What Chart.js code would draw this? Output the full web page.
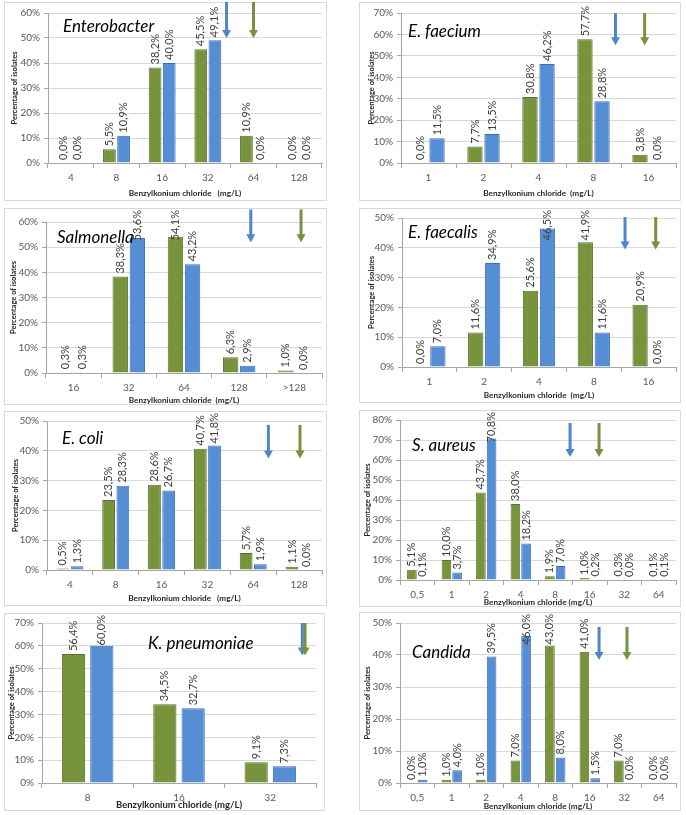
<!DOCTYPE html>
<html>
<head>
<meta charset="utf-8">
<script src="https://cdn.jsdelivr.net/npm/chart.js@4.4.0/dist/chart.umd.min.js"></script>
<style>
  body { margin: 0; background: #fff; }
  #page { position: relative; width: 686px; height: 815px; overflow: hidden; }
  .frame { position: absolute; box-sizing: border-box; border: 1px solid #d9d9d9; }
  canvas { position: absolute; }
</style>
</head>
<body>
<div id="page"></div>
<script>
// Data (percentage of isolates per MIC, green / blue series)
const enterobacterDoses = ["4", "8", "16", "32", "64", "128"];
const enterobacterGreen = [0.0, 5.5, 38.2, 45.5, 10.9, 0.0];
const enterobacterBlue = [0.0, 10.9, 40.0, 49.1, 0.0, 0.0];

const faeciumDoses = ["1", "2", "4", "8", "16"];
const faeciumGreen = [0.0, 7.7, 30.8, 57.7, 3.8];
const faeciumBlue = [11.5, 13.5, 46.2, 28.8, 0.0];

const salmonellaDoses = ["16", "32", "64", "128", ">128"];
const salmonellaGreen = [0.3, 38.3, 54.1, 6.3, 1.0];
const salmonellaBlue = [0.3, 53.6, 43.2, 2.9, 0.0];

const faecalisDoses = ["1", "2", "4", "8", "16"];
const faecalisGreen = [0.0, 11.6, 25.6, 41.9, 20.9];
const faecalisBlue = [7.0, 34.9, 46.5, 11.6, 0.0];

const coliDoses = ["4", "8", "16", "32", "64", "128"];
const coliGreen = [0.5, 23.5, 28.6, 40.7, 5.7, 1.1];
const coliBlue = [1.3, 28.3, 26.7, 41.8, 1.9, 0.0];

const aureusDoses = ["0,5", "1", "2", "4", "8", "16", "32", "64"];
const aureusGreen = [5.1, 10.0, 43.7, 38.0, 1.9, 1.0, 0.3, 0.1];
const aureusBlue = [0.1, 3.7, 70.8, 18.2, 7.0, 0.2, 0.0, 0.1];

const pneumoniaeDoses = ["8", "16", "32"];
const pneumoniaeGreen = [56.4, 34.5, 9.1];
const pneumoniaeBlue = [60.0, 32.7, 7.3];

const candidaDoses = ["0,5", "1", "2", "4", "8", "16", "32", "64"];
const candidaGreen = [0.0, 1.0, 1.0, 7.0, 43.0, 41.0, 7.0, 0.0];
const candidaBlue = [1.0, 4.0, 39.5, 46.0, 8.0, 1.5, 0.0, 0.0];

const GREEN = "#77933c";
const GREEN_EDGE = "#5b732c";
const BLUE = "#558ed5";
const BLUE_EDGE = "#3b6fb4";
const ARROW_BLUE = "#4f86c9";
const ARROW_GREEN = "#77933c";

// Panel layout: box = frame [x, y, w, h], plot = chart area [left, top, right, bottom]
// arrows: [category index, from value, to value] -> blue first, then green
const panels = [
    { name: "Enterobacter", labels: enterobacterDoses, green: enterobacterGreen, blue: enterobacterBlue, max: 60,
      box: [4, 2, 323, 199], plot: [48, 13, 322, 163], yPad: 6, xPad: 3, namePos: [59, 25],
      xTitle: "Benzylkonium chloride   (mg/L)", arrows: [[3.41, 66, 50], [4.0, 66, 50]] },
    { name: "E. faecium", labels: faeciumDoses, green: faeciumGreen, blue: faeciumBlue, max: 70,
      box: [359, 2, 322, 199], plot: [401, 13, 676, 163], yPad: 8, xPad: 3, namePos: [49, 30],
      xTitle: "Benzylkonium chloride  (mg/L)", arrows: [[3.4, 70, 55], [3.93, 70, 55]] },
    { name: "Salmonella", labels: salmonellaDoses, green: salmonellaGreen, blue: salmonellaBlue, max: 60,
      box: [4, 208, 323, 197], plot: [46, 222, 322, 373], yPad: 5, xPad: 0, namePos: [53, 30],
      xTitle: "Benzylkonium chloride  (mg/L)", arrows: [[3.21, 65, 52], [4.12, 65, 52]] },
    { name: "E. faecalis", labels: faecalisDoses, green: faecalisGreen, blue: faecalisBlue, max: 50,
      box: [359, 208, 322, 195], plot: [402, 216, 676, 367], yPad: 8, xPad: 3, namePos: [49, 25],
      xTitle: "Benzylkonium chloride  (mg/L)", arrows: [[3.57, 50.3, 39.4], [4.13, 50.3, 39.4]] },
    { name: "E. coli", labels: coliDoses, green: coliGreen, blue: coliBlue, max: 50,
      box: [4, 411, 323, 195], plot: [47, 419, 322, 570], yPad: 7, xPad: 3, namePos: [58, 28],
      xTitle: "Benzylkonium chloride   (mg/L)", arrows: [[4.33, 48.7, 37.4], [5.02, 48.7, 37.4]] },
    { name: "S. aureus", labels: aureusDoses, green: aureusGreen, blue: aureusBlue, max: 80,
      box: [359, 410, 322, 197], plot: [400, 420, 676, 580], yPad: 4, xPad: 0, namePos: [53, 36],
      xTitle: "Benzylkonium chloride (mg/L)", arrows: [[4.43, 78.5, 61.5], [5.27, 78.5, 61.5]] },
    { name: "K. pneumoniae", labels: pneumoniaeDoses, green: pneumoniaeGreen, blue: pneumoniaeBlue, max: 70,
      box: [4, 613, 321, 198], plot: [42, 620, 316, 783], yPad: 3, xPad: 0, namePos: [144, 31],
      xTitle: "Benzylkonium chloride (mg/L)", bigTitle: true, barPct: 0.82,
      arrows: [[2.35, 70, 55.8], [2.38, 70, 55.8]] },
    { name: "Candida", labels: candidaDoses, green: candidaGreen, blue: candidaBlue, max: 50,
      box: [359, 612, 322, 199], plot: [400, 623, 676, 783], yPad: 4, xPad: 0, namePos: [53, 41],
      xTitle: "Benzylkonium chloride (mg/L)", arrows: [[5.27, 48.75, 38.4], [6.08, 48.75, 38.4]] },
];

Chart.defaults.font.family = "Lato";
Chart.defaults.color = "#595959";

// Rotated value labels above bars (pushed down when they would leave the frame)
const barLabels = {
    id: "barLabels",
    afterDatasetsDraw(chart) {
        const ctx = chart.ctx;
        ctx.save();
        ctx.font = "11px Lato";
        ctx.fillStyle = "#404040";
        ctx.textBaseline = "middle";
        ctx.textAlign = "left";
        chart.data.datasets.forEach((ds, i) => {
            chart.getDatasetMeta(i).data.forEach((bar, j) => {
                const text = ds.data[j].toFixed(1).replace(".", ",") + "%";
                const w = ctx.measureText(text).width;
                const start = Math.max(bar.y - 3, w + 2);
                ctx.save();
                ctx.translate(bar.x, start);
                ctx.rotate(-Math.PI / 2);
                ctx.fillText(text, 0, 0);
                ctx.restore();
            });
        });
        ctx.restore();
    }
};

// Species name and breakpoint arrows
const panelMarks = {
    id: "panelMarks",
    afterDraw(chart, args, opts) {
        const ctx = chart.ctx;
        const x = chart.scales.x;
        const y = chart.scales.y;
        ctx.save();
        opts.arrows.forEach((a, k) => {
            const px = x.getPixelForValue(a[0]);
            const top = y.getPixelForValue(a[1]);
            const tip = y.getPixelForValue(a[2]);
            ctx.strokeStyle = ctx.fillStyle = k === 0 ? ARROW_BLUE : ARROW_GREEN;
            ctx.lineWidth = 3;
            ctx.beginPath();
            ctx.moveTo(px, top);
            ctx.lineTo(px, tip - 7);
            ctx.stroke();
            ctx.beginPath();
            ctx.moveTo(px - 4.5, tip - 8);
            ctx.lineTo(px + 4.5, tip - 8);
            ctx.lineTo(px, tip);
            ctx.closePath();
            ctx.fill();
        });
        ctx.font = "italic 17px Lato";
        ctx.fillStyle = "#000";
        ctx.textBaseline = "middle";
        ctx.fillText(opts.name, opts.namePos[0], opts.namePos[1]);
        ctx.restore();
    }
};

const page = document.getElementById("page");

panels.forEach((p) => {
    const [bx, by, bw, bh] = p.box;
    const [pl, pt, pr, pb] = p.plot;

    const frame = document.createElement("div");
    frame.className = "frame";
    frame.style.cssText = `left:${bx}px;top:${by}px;width:${bw}px;height:${bh}px`;
    page.appendChild(frame);

    const canvas = document.createElement("canvas");
    canvas.width = bw;
    canvas.height = bh;
    canvas.style.cssText = `left:${bx}px;top:${by}px;width:${bw}px;height:${bh}px`;
    page.appendChild(canvas);

    new Chart(canvas.getContext("2d"), {
        type: "bar",
        data: {
            labels: p.labels,
            datasets: [
                { data: p.green, backgroundColor: GREEN, borderColor: GREEN_EDGE, borderWidth: 1 },
                { data: p.blue, backgroundColor: BLUE, borderColor: BLUE_EDGE, borderWidth: 1 },
            ],
        },
        options: {
            responsive: false,
            animation: false,
            layout: { padding: { top: pt - by, right: bx + bw - pr, left: 0, bottom: 0 } },
            datasets: { bar: { categoryPercentage: 0.62, barPercentage: p.barPct || 0.9 } },
            plugins: {
                legend: { display: false },
                tooltip: { enabled: false },
                panelMarks: { name: p.name, namePos: p.namePos, arrows: p.arrows },
            },
            scales: {
                x: {
                    afterFit: (s) => { s.height = by + bh - pb; },
                    grid: { offset: true, drawOnChartArea: false, tickLength: 5, color: "#a6a6a6" },
                    border: { color: "#a6a6a6" },
                    ticks: { autoSkip: false, maxRotation: 0, padding: 4, font: { size: 10 } },
                    title: {
                        display: true,
                        text: p.xTitle,
                        color: "#262626",
                        padding: { top: 0, bottom: p.xPad },
                        font: { size: p.bigTitle ? 9.5 : 8.2, weight: "bold" },
                    },
                },
                y: {
                    min: 0,
                    max: p.max,
                    afterFit: (s) => { s.width = pl - bx; },
                    grid: { color: "#d9d9d9", tickColor: "#a6a6a6", tickLength: 4 },
                    border: { color: "#a6a6a6" },
                    ticks: { stepSize: 10, padding: 4, font: { size: 10 }, callback: (v) => v + "%" },
                    title: {
                        display: true,
                        text: "Percentage of isolates",
                        color: "#262626",
                        padding: { top: p.yPad, bottom: 0 },
                        font: { size: 7.5, weight: "bold" },
                    },
                },
            },
        },
        plugins: [barLabels, panelMarks],
    });
});
</script>
</body>
</html>
